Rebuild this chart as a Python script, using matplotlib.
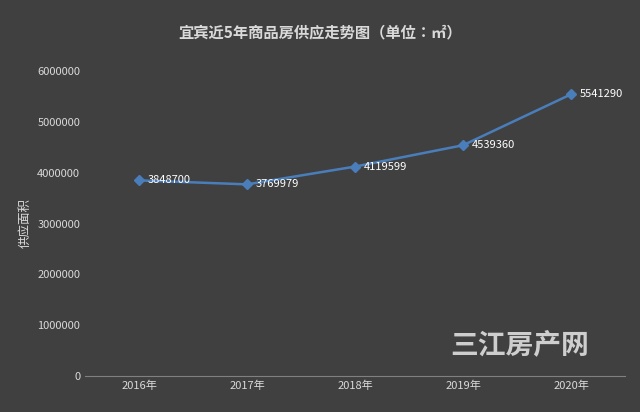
import matplotlib
matplotlib.use("Agg")
import matplotlib.pyplot as plt
from matplotlib import font_manager as fm

years = ["2016年", "2017年", "2018年", "2019年", "2020年"]
supply = [3848700, 3769979, 4119599, 4539360, 5541290]
yticks = [0, 1000000, 2000000, 3000000, 4000000, 5000000, 6000000]

cjk = None
for f in fm.findSystemFonts():
    n = f.lower()
    if "notosanscjk" in n.replace("-", "").replace("_", "") or "notosans cjk" in n:
        cjk = f
        if "sc" in n or "ttc" in n:
            break
if cjk:
    fm.fontManager.addfont(cjk)
    name = fm.FontProperties(fname=cjk).get_name()
    plt.rcParams["font.family"] = [name, "DejaVu Sans"]
else:
    plt.rcParams["font.family"] = ["Noto Sans CJK SC", "Noto Sans CJK JP", "DejaVu Sans"]

bg = "#404040"
fig = plt.figure(figsize=(6.4, 4.12), dpi=100, facecolor=bg)
ax = fig.add_axes([85/640, 1-376/412, 540/640, 305/412], facecolor=bg)
x = list(range(len(years)))
ax.plot(x, supply, color="#4a7ebb", lw=1.8, marker="D", ms=5)
for i, v in enumerate(supply):
    ax.text(i + 0.08, v, str(v), color="white", fontsize=8, va="center", ha="left")
ax.set_xlim(-0.5, 4.5)
ax.set_ylim(0, 6000000)
ax.set_yticks(yticks)
ax.set_yticklabels([str(t) for t in yticks])
ax.set_xticks(x)
ax.set_xticklabels(years)
ax.tick_params(colors="#d9d9d9", labelsize=8, length=0)
for s in ["top", "right", "left"]:
    ax.spines[s].set_visible(False)
ax.spines["bottom"].set_color("#808080")
ax.set_ylabel("供应面积", color="#d9d9d9", fontsize=9)
fig.text(0.5, 1-32/412, "宜宾近5年商品房供应走势图（单位：㎡）", color="#d9d9d9",
         fontsize=11, fontweight="bold", ha="center", va="center")
fig.text(520/640, 1-345/412, "三江房产网", color="white", alpha=0.75,
         fontsize=20, fontweight="bold", ha="center", va="center")
fig.savefig("out.png", dpi=100, facecolor=bg)
